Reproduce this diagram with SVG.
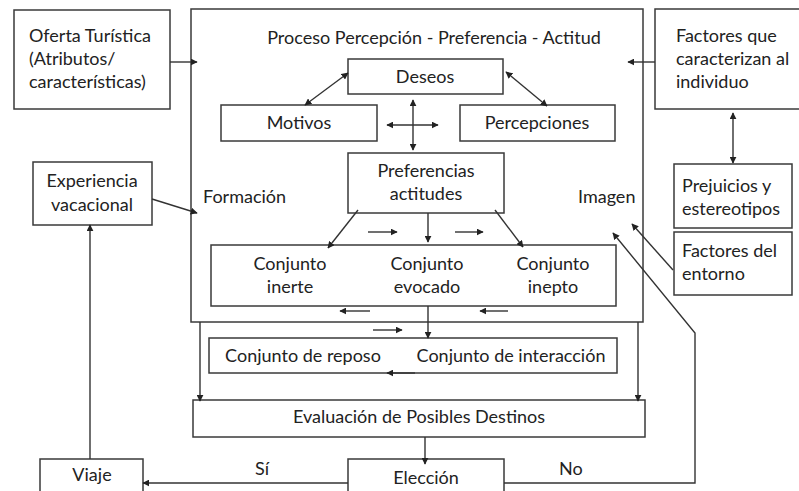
<svg xmlns="http://www.w3.org/2000/svg" width="799" height="491" viewBox="0 0 799 491">
<defs>
<style>
.b{fill:#fff;stroke:#3a3a3a;stroke-width:1.5}
.t{font-family:Lato,"Open Sans",sans-serif;font-size:18px;fill:#222}
.m{text-anchor:middle}
.c{fill:none;stroke:#333;stroke-width:1.4}
</style>
<marker id="a" viewBox="0 0 10 10" refX="9" refY="5" markerWidth="7" markerHeight="7" markerUnits="userSpaceOnUse" orient="auto-start-reverse"><path d="M0,0 L10,5 L0,10 Z" fill="#222"/></marker>
</defs>
<rect width="799" height="491" fill="#fff"/>
<g id="main"><rect class="b" x="191" y="9" width="452" height="313"/>
<text class="t m" x="434" y="44">Proceso Percepción - Preferencia - Actitud</text>
<text class="t" x="203" y="203">Formación</text>
<text class="t" x="578" y="203">Imagen</text></g>
<g id="oferta"><rect class="b" x="14" y="10" width="156" height="99"/>
<text class="t" x="29" y="42">Oferta Turística</text><text class="t" x="29" y="65">(Atributos/</text><text class="t" x="29" y="88">características)</text></g>
<g id="factores"><rect class="b" x="655" y="9" width="150" height="100"/>
<text class="t" x="676" y="42">Factores que</text><text class="t" x="676" y="65">caracterizan al</text><text class="t" x="676" y="88">individuo</text></g>
<g id="prejuicios"><rect class="b" x="674" y="164" width="118" height="64"/>
<text class="t" x="682" y="192">Prejuicios y</text><text class="t" x="682" y="215">estereotipos</text></g>
<g id="entorno"><rect class="b" x="674" y="232" width="118" height="63"/>
<text class="t" x="682" y="257">Factores del</text><text class="t" x="682" y="280">entorno</text></g>
<g id="experiencia"><rect class="b" x="33" y="162" width="119" height="63"/>
<text class="t m" x="92" y="187">Experiencia</text><text class="t m" x="92" y="211">vacacional</text></g>
<g id="deseos"><rect class="b" x="348" y="59" width="155" height="35"/><text class="t m" x="425" y="83">Deseos</text></g>
<g id="motivos"><rect class="b" x="221" y="105" width="156" height="36"/><text class="t m" x="299" y="129">Motivos</text></g>
<g id="percepciones"><rect class="b" x="460" y="105" width="155" height="36"/><text class="t m" x="537" y="129">Percepciones</text></g>
<g id="preferencias"><rect class="b" x="348" y="153" width="156" height="60"/>
<text class="t m" x="426" y="177">Preferencias</text><text class="t m" x="426" y="200">actitudes</text></g>
<g id="conjuntos"><rect class="b" x="211" y="245" width="405" height="61"/>
<text class="t m" x="290" y="270">Conjunto</text><text class="t m" x="290" y="293">inerte</text>
<text class="t m" x="427" y="270">Conjunto</text><text class="t m" x="427" y="293">evocado</text>
<text class="t m" x="553" y="270">Conjunto</text><text class="t m" x="553" y="293">inepto</text></g>
<g id="reposo"><rect class="b" x="209" y="338" width="408" height="35"/>
<text class="t m" x="303" y="362">Conjunto de reposo</text><text class="t m" x="511" y="362">Conjunto de interacción</text></g>
<g id="evaluacion"><rect class="b" x="193" y="400" width="452" height="37"/><text class="t m" x="419" y="423">Evaluación de Posibles Destinos</text></g>
<g id="eleccion"><rect class="b" x="348" y="459" width="156" height="40"/><text class="t m" x="426" y="484">Elección</text></g>
<g id="viaje"><rect class="b" x="40" y="459" width="103" height="40"/><text class="t m" x="92" y="481">Viaje</text></g>
<g id="connectors">
<path class="c" d="M170,62 H197" marker-end="url(#a)"/>
<path class="c" d="M655,62 H628" marker-end="url(#a)"/>
<path class="c" d="M733,113 V163" marker-start="url(#a)" marker-end="url(#a)"/>
<path class="c" d="M152,199 L197,213" marker-end="url(#a)"/>
<path class="c" d="M305,105 L348,73" marker-start="url(#a)" marker-end="url(#a)"/>
<path class="c" d="M506,72 L547,106" marker-start="url(#a)" marker-end="url(#a)"/>
<path class="c" d="M413,100 V150" marker-start="url(#a)" marker-end="url(#a)"/>
<path class="c" d="M387,125 H438" marker-start="url(#a)" marker-end="url(#a)"/>
<path class="c" d="M358,210 L328,248" marker-end="url(#a)"/>
<path class="c" d="M428,213 V242" marker-end="url(#a)"/>
<path class="c" d="M495,210 L523,247" marker-end="url(#a)"/>
<path class="c" d="M368,232 H397" marker-end="url(#a)"/>
<path class="c" d="M455,232 H483" marker-end="url(#a)"/>
<path class="c" d="M370,311 H340" marker-end="url(#a)"/>
<path class="c" d="M508,311 H480" marker-end="url(#a)"/>
<path class="c" d="M428,306 V338" marker-end="url(#a)"/>
<path class="c" d="M373,330 H402" marker-end="url(#a)"/>
<path class="c" d="M415,373 H387" marker-end="url(#a)"/>
<path class="c" d="M200,322 V401" marker-end="url(#a)"/>
<path class="c" d="M638,322 V401" marker-end="url(#a)"/>
<path class="c" d="M425,437 V464" marker-end="url(#a)"/>
<path class="c" d="M348,483 H143" marker-end="url(#a)"/>
<path class="c" d="M90,459 V225" marker-end="url(#a)"/>
<path class="c" d="M504,483 H695 V333 L613,233" marker-end="url(#a)"/>
<path class="c" d="M673,270 L632,224" marker-end="url(#a)"/>
<text class="t" x="255" y="475">Sí</text>
<text class="t" x="559" y="475">No</text>
</g>
</svg>
